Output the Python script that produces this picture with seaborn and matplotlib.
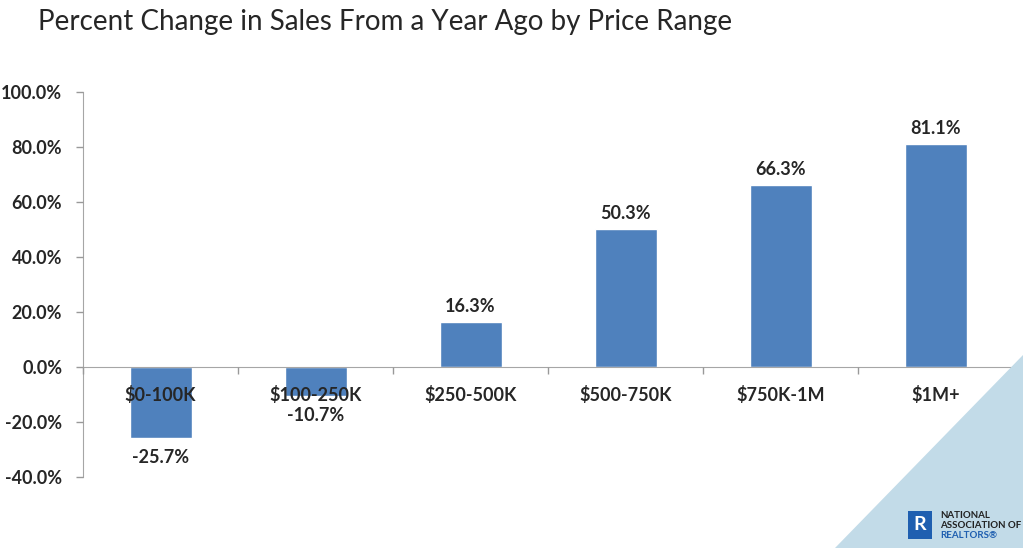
import numpy as np
import pandas as pd
import matplotlib
matplotlib.use('Agg')
import matplotlib.pyplot as plt
from matplotlib.patches import Polygon, Rectangle
import seaborn as sns

# data
ranges = ['$0-100K', '$100-250K', '$250-500K', '$500-750K', '$750K-1M', '$1M+']
pct_change = [-25.7, -10.7, 16.3, 50.3, 66.3, 81.1]
yticks = [-40, -20, 0, 20, 40, 60, 80, 100]

sns.set_style('white')
plt.rcParams['font.family'] = ['Lato', 'DejaVu Sans']

df = pd.DataFrame({'range': ranges, 'pct': pct_change})

fig = plt.figure(figsize=(10.23, 5.48), dpi=100)

# light blue corner triangle (slide decoration)
fig.patches.append(Polygon([[1.0, 1 - 355 / 548], [1.0, 0.0], [835 / 1023, 0.0]],
                           closed=True, transform=fig.transFigure,
                           facecolor='#c2dbe8', edgecolor='none', zorder=0))

ax = fig.add_axes([83 / 1023, 1 - 477 / 548, (1013 - 83) / 1023, (477 - 92) / 548])
ax.patch.set_alpha(0)

sns.barplot(data=df, x='range', y='pct', color='#4f81bd', saturation=1,
            width=0.4, ax=ax, zorder=1)
ax.set_axisbelow(False)  # category labels are drawn over the negative bars

ax.set_ylim(-40, 100)
ax.set_xlim(-0.5, len(ranges) - 0.5)
ax.set_yticks(yticks)
ax.set_yticklabels([f'{v:.1f}%' for v in yticks], fontsize=13, fontweight='bold')
ax.set_xlabel('')
ax.set_ylabel('')

# x axis sits on the zero line
for s in ['top', 'right']:
    ax.spines[s].set_visible(False)
ax.spines['left'].set_color('#a6a6a6')
ax.spines['bottom'].set_position(('data', 0))
ax.spines['bottom'].set_color('#a6a6a6')
ax.tick_params(axis='y', left=True, length=5, width=1, color='#999999',
               direction='out', pad=10)
ax.tick_params(axis='x', which='major', bottom=True, length=0, pad=14)
ax.set_xticks(np.arange(-0.5, len(ranges), 1.0), minor=True)
ax.tick_params(axis='x', which='minor', bottom=True, length=5, width=1,
               color='#999999', direction='out')
for lab in ax.get_xticklabels():
    lab.set_fontsize(13)
    lab.set_fontweight('bold')

# value labels
for i, v in enumerate(pct_change):
    if v >= 0:
        ax.text(i, v + 2.5, f'{v:.1f}%', ha='center', va='bottom',
                fontsize=13, fontweight='bold')
    else:
        ax.text(i, v - 4, f'{v:.1f}%', ha='center', va='top',
                fontsize=13, fontweight='bold')

fig.text(38 / 1023, 1 - 22 / 548, 'Percent Change in Sales From a Year Ago by Price Range',
         fontsize=20, va='center', ha='left')

# NAR logo
fig.patches.append(Rectangle((908 / 1023, 1 - 539 / 548), 24 / 1023, 28 / 548,
                             transform=fig.transFigure, facecolor='#1f5fb0',
                             edgecolor='none'))
fig.text(920 / 1023, 1 - 525 / 548, 'R', color='white', fontsize=14,
         fontweight='bold', ha='center', va='center')
fig.text(940 / 1023, 1 - 515 / 548, 'NATIONAL', fontsize=7, fontweight='bold',
         color='#222222', va='center')
fig.text(940 / 1023, 1 - 525 / 548, 'ASSOCIATION OF', fontsize=7, fontweight='bold',
         color='#222222', va='center')
fig.text(940 / 1023, 1 - 535 / 548, 'REALTORS\u00ae', fontsize=7, fontweight='bold',
         color='#1f5fb0', va='center')

fig.savefig('out.png', dpi=100)
